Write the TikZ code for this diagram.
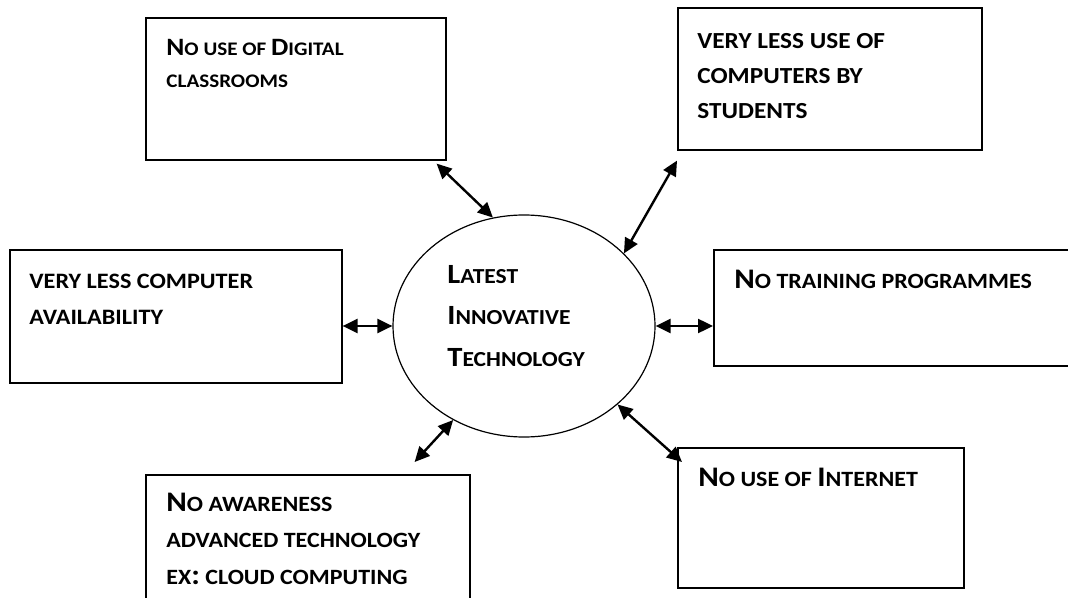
\documentclass[tikz,border=0pt]{standalone}
\usepackage{fontspec}
\setmainfont{Carlito}[FakeStretch=1.1]
\usetikzlibrary{shapes.geometric,arrows.meta,positioning}
\newcommand\Kap[1]{\scalebox{1.3}{#1}}

\begin{document}
\begin{tikzpicture}
[x=0.5pt,y=-0.5pt,
box/.style={rectangle,draw,line width=0.8pt,anchor=north west,inner sep=0pt},
boxtext/.style={anchor=north west,inner sep=0pt,align=left},
link/.style={<->,>={Triangle[length=7.5pt,width=7pt]},line width=1.2pt}]
\clip (0,0) rectangle (1068,598);
\node[box,minimum width=150pt,minimum height=71pt] (digital) at (145,17) {};
\node[box,minimum width=152pt,minimum height=71pt] (students) at (677,7) {};
\node[box,minimum width=166pt,minimum height=66.5pt] (availability) at (9,249) {};
\node[box,minimum width=183.5pt,minimum height=58pt] (training) at (713,249) {};
\node[box,minimum width=162pt,minimum height=68pt] (awareness) at (145,474) {};
\node[box,minimum width=143pt,minimum height=70pt] (internet) at (677,447) {};
\node[ellipse,draw,line width=0.6pt,inner sep=0pt,minimum width=131pt,minimum height=111pt] (tech) at (524,326) {};
% texts
\node[boxtext,font=\bfseries\fontsize{9.6}{16}\selectfont,below right=11pt and 10.5pt of digital.north west] (digitaltext)
{\Kap{N}O USE OF \Kap{D}IGITAL\\CLASSROOMS};
\node[boxtext,font=\bfseries\fontsize{11.5}{17.5}\selectfont,below right=13pt and 10pt of students.north west] (studentstext)
{VERY LESS USE OF\\COMPUTERS BY\\STUDENTS};
\node[boxtext,font=\bfseries\fontsize{11}{17.75}\selectfont,below right=12.4pt and 10pt of availability.north west] (availabilitytext)
{VERY LESS COMPUTER\\AVAILABILITY};
\node[boxtext,font=\bfseries\fontsize{10.9}{18}\selectfont,below right=10.35pt and 10.5pt of training.north west] (trainingtext)
{\Kap{N}O TRAINING PROGRAMMES};
\node[boxtext,font=\bfseries\fontsize{10.9}{18.25}\selectfont,below right=9.35pt and 10.5pt of awareness.north west] (awarenesstext)
{\Kap{N}O AWARENESS\\ADVANCED TECHNOLOGY\\EX\Kap{:} CLOUD COMPUTING};
\node[boxtext,font=\bfseries\fontsize{10.9}{18}\selectfont,below right=10.35pt and 10.5pt of internet.north west] (internettext)
{\Kap{N}O USE OF \Kap{I}NTERNET};
\node[boxtext,font=\bfseries\fontsize{10.7}{20.75}\selectfont] (techtext) at ([shift={(-77,-61)}]tech.center)
{\Kap{L}ATEST\\\Kap{I}NNOVATIVE\\\Kap{T}ECHNOLOGY};
% connectors
\coordinate (digitalend) at ([shift={(-10,3)}]digital.south east);
\coordinate (studentsend) at ([shift={(0,10)}]students.south west);
\coordinate (awarenessend) at ([shift={(-56,-12)}]awareness.north east);
\coordinate (internetend) at ([shift={(5,15)}]internet.north west);
\draw[link] (digitalend) -- (tech.106);
\draw[link] (studentsend) -- (tech.36);
\draw[link] (availability.east |- tech.west) -- (tech.west);
\draw[link] (tech.east) -- (tech.east -| training.west);
\draw[link] (awarenessend) -- (tech.233);
\draw[link] (internetend) -- (tech.-40);
\end{tikzpicture}
\end{document}
